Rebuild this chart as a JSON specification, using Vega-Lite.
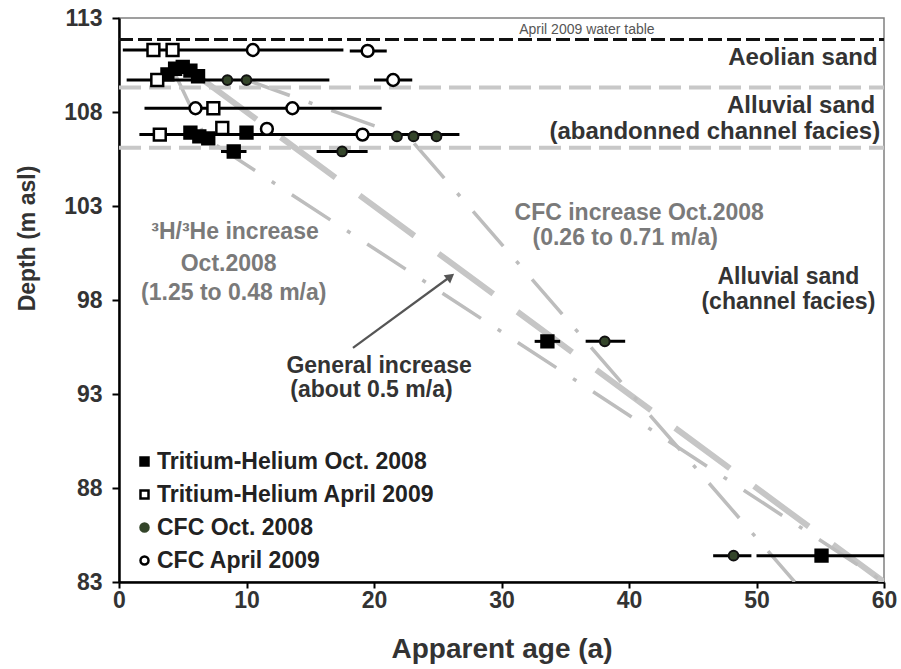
{
  "$schema": "https://vega.github.io/schema/vega-lite/v6.json",
  "width": 765,
  "height": 564,
  "autosize": {"type": "none"},
  "padding": {"left": 119, "top": 18, "right": 17, "bottom": 87},
  "background": "white",
  "config": {
    "font": "Liberation Sans",
    "view": {"stroke": "#808080", "strokeWidth": 1.5},
    "axis": {
      "grid": false,
      "domainColor": "black",
      "domainWidth": 2.5,
      "tickColor": "black",
      "tickWidth": 2,
      "tickSize": 6,
      "labelFont": "Liberation Sans",
      "labelFontWeight": "bold",
      "labelFontSize": 23,
      "labelColor": "#333333",
      "labelFlush": false,
      "labelOverlap": false,
      "titleFont": "Liberation Sans",
      "titleFontWeight": "bold",
      "titleColor": "#333333"
    },
    "legend": {
      "orient": "none",
      "legendX": 14,
      "legendY": 432,
      "padding": 0,
      "labelFont": "Liberation Sans",
      "labelFontSize": 23,
      "labelFontWeight": "bold",
      "labelColor": "#222222",
      "labelLimit": 500,
      "labelOffset": 1,
      "symbolSize": 64,
      "symbolStrokeWidth": 2.5,
      "rowPadding": 9
    }
  },
  "datasets": {
    "points": [
      {"series": "Tritium-Helium Oct. 2008", "age": 3.8, "depth": 110.0},
      {"series": "Tritium-Helium Oct. 2008", "age": 4.4, "depth": 110.3},
      {"series": "Tritium-Helium Oct. 2008", "age": 5.0, "depth": 110.4},
      {"series": "Tritium-Helium Oct. 2008", "age": 5.6, "depth": 110.2},
      {"series": "Tritium-Helium Oct. 2008", "age": 6.2, "depth": 109.9},
      {"series": "Tritium-Helium Oct. 2008", "age": 5.6, "depth": 106.9},
      {"series": "Tritium-Helium Oct. 2008", "age": 6.3, "depth": 106.7},
      {"series": "Tritium-Helium Oct. 2008", "age": 7.0, "depth": 106.6},
      {"series": "Tritium-Helium Oct. 2008", "age": 10.0, "depth": 106.9},
      {"series": "Tritium-Helium Oct. 2008", "age": 9.0, "depth": 105.9},
      {"series": "Tritium-Helium Oct. 2008", "age": 33.6, "depth": 95.8},
      {"series": "Tritium-Helium Oct. 2008", "age": 55.1, "depth": 84.4},
      {"series": "Tritium-Helium April 2009", "age": 2.7, "depth": 111.3},
      {"series": "Tritium-Helium April 2009", "age": 4.2, "depth": 111.3},
      {"series": "Tritium-Helium April 2009", "age": 3.0, "depth": 109.7},
      {"series": "Tritium-Helium April 2009", "age": 7.4, "depth": 108.2},
      {"series": "Tritium-Helium April 2009", "age": 3.2, "depth": 106.8},
      {"series": "Tritium-Helium April 2009", "age": 8.1, "depth": 107.15},
      {"series": "CFC Oct. 2008", "age": 8.5, "depth": 109.7},
      {"series": "CFC Oct. 2008", "age": 10.0, "depth": 109.7},
      {"series": "CFC Oct. 2008", "age": 21.8, "depth": 106.7},
      {"series": "CFC Oct. 2008", "age": 23.1, "depth": 106.7},
      {"series": "CFC Oct. 2008", "age": 24.9, "depth": 106.7},
      {"series": "CFC Oct. 2008", "age": 17.5, "depth": 105.9},
      {"series": "CFC Oct. 2008", "age": 38.1, "depth": 95.8},
      {"series": "CFC Oct. 2008", "age": 48.2, "depth": 84.4},
      {"series": "CFC April 2009", "age": 10.5, "depth": 111.3},
      {"series": "CFC April 2009", "age": 19.5, "depth": 111.25},
      {"series": "CFC April 2009", "age": 21.5, "depth": 109.7},
      {"series": "CFC April 2009", "age": 6.0, "depth": 108.2},
      {"series": "CFC April 2009", "age": 13.6, "depth": 108.2},
      {"series": "CFC April 2009", "age": 11.6, "depth": 107.1},
      {"series": "CFC April 2009", "age": 19.1, "depth": 106.8}
    ],
    "errors": [
      {"depth": 111.3, "age": 0.3, "age2": 17.6},
      {"depth": 111.25, "age": 18.1, "age2": 21.0},
      {"depth": 109.7, "age": 0.6, "age2": 16.5},
      {"depth": 109.7, "age": 20.0, "age2": 23.0},
      {"depth": 108.2, "age": 2.0, "age2": 20.6},
      {"depth": 106.8, "age": 1.6, "age2": 26.7},
      {"depth": 105.9, "age": 8.0, "age2": 10.0},
      {"depth": 105.9, "age": 15.5, "age2": 19.5},
      {"depth": 95.8, "age": 32.6, "age2": 34.6},
      {"depth": 95.8, "age": 36.6, "age2": 39.7},
      {"depth": 84.4, "age": 46.6, "age2": 49.6},
      {"depth": 84.4, "age": 50.0, "age2": 60.0}
    ],
    "watertable": [{"depth": 111.85, "age": 0, "age2": 60}],
    "boundaries": [
      {"depth": 109.3, "age": 0, "age2": 60},
      {"depth": 106.1, "age": 0, "age2": 60}
    ],
    "general": [
      {"line": "general", "age": 6.5, "depth": 109.75},
      {"line": "general", "age": 60, "depth": 83}
    ],
    "trends": [
      {"line": "3H/3He", "age": 4.2, "depth": 110.3},
      {"line": "3H/3He", "age": 6.8, "depth": 106.6},
      {"line": "3H/3He", "age": 60, "depth": 83},
      {"line": "CFC", "age": 10.0, "depth": 109.7},
      {"line": "CFC", "age": 22.8, "depth": 106.6},
      {"line": "CFC", "age": 53.0, "depth": 83}
    ],
    "arrow": [
      {"age": 18.35, "depth": 95.45},
      {"age": 26.0, "depth": 99.25}
    ],
    "arrowhead": [{"age": 26.0, "depth": 99.25}],
    "labels_right": [
      {"text": "Aeolian sand", "age": 59.5, "depth": 110.85},
      {"text": "Alluvial sand", "age": 59.3, "depth": 108.3},
      {"text": "(abandonned channel facies)", "age": 59.7, "depth": 106.95}
    ],
    "labels_dark": [
      {"text": "Alluvial sand", "age": 52.5, "depth": 99.25},
      {"text": "(channel facies)", "age": 52.5, "depth": 97.9},
      {"text": "General increase", "age": 20.4, "depth": 94.5},
      {"text": "(about 0.5 m/a)", "age": 19.8, "depth": 93.2}
    ],
    "labels_gray": [
      {"text": "CFC increase Oct.2008", "age": 40.8, "depth": 102.65},
      {"text": "(0.26 to 0.71 m/a)", "age": 39.7, "depth": 101.3},
      {"text": "³H/³He increase", "age": 9.1, "depth": 101.6},
      {"text": "Oct.2008", "age": 8.6, "depth": 99.9},
      {"text": "(1.25 to 0.48 m/a)", "age": 9.0, "depth": 98.35}
    ],
    "label_small": [
      {"text": "April 2009 water table", "age": 36.7, "depth": 112.35}
    ]
  },
  "encoding": {
    "x": {
      "field": "age",
      "type": "quantitative",
      "scale": {"domain": [0, 60], "nice": false, "zero": false},
      "axis": {
        "values": [0, 10, 20, 30, 40, 50, 60],
        "title": "Apparent age (a)",
        "titleFontSize": 28,
        "titlePadding": 23,
        "labelPadding": 1
      }
    },
    "y": {
      "field": "depth",
      "type": "quantitative",
      "scale": {"domain": [83, 113], "nice": false, "zero": false},
      "axis": {
        "values": [83, 88, 93, 98, 103, 108, 113],
        "title": "Depth (m asl)",
        "titleFontSize": 23,
        "titlePadding": 24,
        "titleY": 220,
        "labelPadding": 10,
        "tickSize": 7
      }
    }
  },
  "layer": [
    {
      "data": {"name": "general"},
      "mark": {"type": "line", "color": "#c6c6c6", "strokeWidth": 6, "strokeDash": [68, 30], "clip": true},
      "encoding": {}
    },
    {
      "data": {"name": "trends"},
      "mark": {"type": "line", "color": "#bdbdbd", "strokeWidth": 3.5, "strokeDash": [46, 20, 4, 20], "clip": true},
      "encoding": {"detail": {"field": "line", "type": "nominal"}}
    },
    {
      "data": {"name": "boundaries"},
      "mark": {"type": "rule", "color": "#c8c8c8", "strokeWidth": 4, "strokeDash": [22, 8]},
      "encoding": {"x2": {"field": "age2"}}
    },
    {
      "data": {"name": "watertable"},
      "mark": {"type": "rule", "color": "#111111", "strokeWidth": 3, "strokeDash": [14, 5]},
      "encoding": {"x2": {"field": "age2"}}
    },
    {
      "data": {"name": "errors"},
      "mark": {"type": "rule", "color": "black", "strokeWidth": 3, "clip": true},
      "encoding": {"x2": {"field": "age2"}}
    },
    {
      "data": {"name": "points"},
      "transform": [{"filter": "datum.series !== 'CFC Oct. 2008'"}],
      "mark": {"type": "point", "filled": true, "strokeWidth": 2.5, "opacity": 1, "size": 140},
      "encoding": {
        "shape": {
          "field": "series",
          "type": "nominal",
          "scale": {
            "domain": ["Tritium-Helium Oct. 2008", "Tritium-Helium April 2009", "CFC Oct. 2008", "CFC April 2009"],
            "range": ["square", "square", "circle", "circle"]
          },
          "legend": {"title": null}
        },
        "fill": {
          "field": "series",
          "type": "nominal",
          "scale": {
            "domain": ["Tritium-Helium Oct. 2008", "Tritium-Helium April 2009", "CFC Oct. 2008", "CFC April 2009"],
            "range": ["black", "white", "#34452a", "white"]
          },
          "legend": {"title": null}
        },
        "stroke": {
          "field": "series",
          "type": "nominal",
          "scale": {
            "domain": ["Tritium-Helium Oct. 2008", "Tritium-Helium April 2009", "CFC Oct. 2008", "CFC April 2009"],
            "range": ["black", "black", "#34452a", "black"]
          },
          "legend": {"title": null}
        }
      }
    },
    {
      "data": {"name": "points"},
      "transform": [{"filter": "datum.series === 'CFC Oct. 2008'"}],
      "mark": {"type": "point", "shape": "circle", "filled": true, "fill": "#34452a", "stroke": "#111111", "strokeWidth": 2, "opacity": 1, "size": 95},
      "encoding": {}
    },
    {
      "data": {"name": "arrow"},
      "mark": {"type": "line", "color": "#555555", "strokeWidth": 2.2},
      "encoding": {}
    },
    {
      "data": {"name": "arrowhead"},
      "mark": {"type": "point", "shape": "triangle-up", "filled": true, "color": "#555555", "size": 110, "angle": 52, "opacity": 1},
      "encoding": {}
    },
    {
      "data": {"name": "labels_right"},
      "mark": {"type": "text", "align": "right", "baseline": "middle", "font": "Liberation Sans", "fontWeight": "bold", "fontSize": 24, "color": "#333333"},
      "encoding": {"text": {"field": "text"}}
    },
    {
      "data": {"name": "labels_dark"},
      "mark": {"type": "text", "align": "center", "baseline": "middle", "font": "Liberation Sans", "fontWeight": "bold", "fontSize": 23, "color": "#333333"},
      "encoding": {"text": {"field": "text"}}
    },
    {
      "data": {"name": "labels_gray"},
      "mark": {"type": "text", "align": "center", "baseline": "middle", "font": "Liberation Sans", "fontWeight": "bold", "fontSize": 23, "color": "#7a7a7a"},
      "encoding": {"text": {"field": "text"}}
    },
    {
      "data": {"name": "label_small"},
      "mark": {"type": "text", "align": "center", "baseline": "middle", "font": "Liberation Sans", "fontSize": 14, "color": "#555555"},
      "encoding": {"text": {"field": "text"}}
    }
  ]
}
